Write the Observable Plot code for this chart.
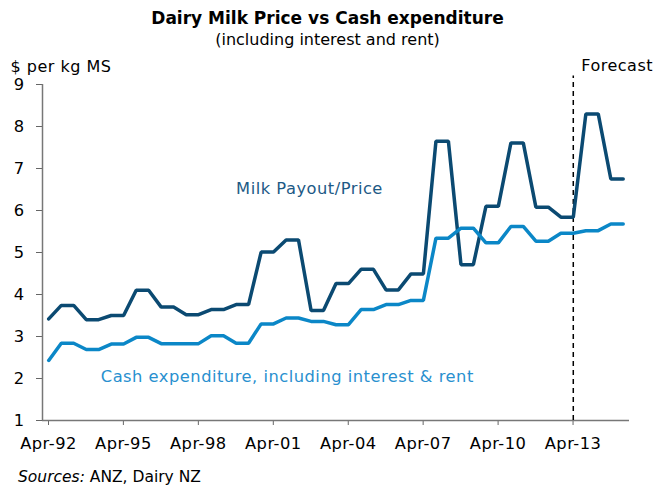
<!DOCTYPE html>
<html><head><meta charset="utf-8">
<script src="https://cdn.jsdelivr.net/npm/d3@7"></script>
<script src="https://cdn.jsdelivr.net/npm/@observablehq/plot@0.6"></script>
<style>
body{margin:0;background:#fff;font-family:"DejaVu Sans",Verdana,sans-serif;width:655px;color:#000;}
#title{padding-top:7px;text-align:center;font-weight:bold;font-size:17px;line-height:22px;}
#subtitle{text-align:center;font-size:16px;line-height:22px;}
#caption{padding-left:18px;font-size:15.5px;line-height:20px;padding-top:7px;}
svg text{letter-spacing:0.5px;}
</style></head><body>
<div id="title">Dairy Milk Price vs Cash expenditure</div>
<div id="subtitle">(including interest and rent)</div>
<div id="chart"></div>
<div id="caption"><i>Sources:</i> ANZ, Dairy NZ</div>
<script>
// Season values: first value plotted at Jul-1992, each later value held from Jan to Jul of its year
const seasonYears = [1992,1993,1994,1995,1996,1997,1998,1999,2000,2001,2002,2003,2004,2005,2006,2007,2008,2009,2010,2011,2012,2013,2014,2015];
const milkPrice = [3.42,3.74,3.40,3.50,4.10,3.70,3.52,3.64,3.76,5.01,5.30,3.62,4.26,4.60,4.11,4.49,7.65,4.71,6.10,7.61,6.08,5.84,8.30,6.75];
const cashExpenditure = [2.43,2.84,2.69,2.82,2.98,2.83,2.83,3.02,2.84,3.30,3.44,3.36,3.28,3.64,3.76,3.86,5.34,5.58,5.23,5.62,5.27,5.46,5.52,5.68];
const seriesNames = ["Milk Payout/Price", "Cash expenditure, including interest & rent"];
const seriesColors = ["#0b4a72", "#0b87c7"];
const labelColors = ["#1d5a86", "#2990cf"];
const tickYears = [1992,1995,1998,2001,2004,2007,2010,2013];
const tickLabels = ["Apr-92","Apr-95","Apr-98","Apr-01","Apr-04","Apr-07","Apr-10","Apr-13"];
const yTicks = [1,2,3,4,5,6,7,8,9];
const forecastYear = 2013, forecastMonth = 6; // Jul-13
const xStart = [1992, 3], xEnd = [2015, 9];

const rows = [];
seasonYears.forEach((yr, i) => {
  const months = i === 0 ? [6] : [0, 6];
  for (const m of months) {
    const date = new Date(Date.UTC(yr, m, 1));
    rows.push({date, value: milkPrice[i], series: seriesNames[0]});
    rows.push({date, value: cashExpenditure[i], series: seriesNames[1]});
  }
});
const tickDates = tickYears.map(y => new Date(Date.UTC(y, 3, 1)));
const labelByTime = new Map(tickDates.map((d, i) => [+d, tickLabels[i]]));
const forecastDate = new Date(Date.UTC(forecastYear, forecastMonth, 1));
const x0 = new Date(Date.UTC(...xStart)), x1 = new Date(Date.UTC(...xEnd));

const labels = [
  {date: new Date(Date.UTC(2000, 0, 1)), value: 6.52, text: seriesNames[0], color: labelColors[0]},
  {date: new Date(Date.UTC(1994, 7, 1)), value: 2.03, text: seriesNames[1], color: labelColors[1]}
];

const chart = Plot.plot({
  width: 655, height: 409,
  marginTop: 33, marginBottom: 40, marginLeft: 42, marginRight: 26,
  style: {fontFamily: '"DejaVu Sans", Verdana, sans-serif', fontSize: "16.3px", background: "#fff", color: "#000", overflow: "visible"},
  x: {type: "utc", domain: [x0, x1]},
  y: {domain: [1, 9]},
  color: {domain: seriesNames, range: seriesColors},
  marks: [
    Plot.axisY(yTicks, {tickSize: 6, tickPadding: 12, stroke: "#666", fill: "#000", label: null}),
    Plot.axisX(tickDates, {tickSize: 5, tickPadding: 12, dx: 6, stroke: "#666", fill: "#000", label: null, tickFormat: d => labelByTime.get(+d)}),
    Plot.ruleY([1], {stroke: "#777", strokeWidth: 1.5}),
    Plot.ruleX([x0], {y1: 1, y2: 9, stroke: "#777", strokeWidth: 1.5}),
    Plot.ruleX([forecastDate], {y1: 1, y2: 9.2, stroke: "#000", strokeWidth: 1.5, strokeDasharray: "5,4"}),
    Plot.line(rows, {x: "date", y: "value", z: "series", stroke: "series", strokeWidth: 3.5, strokeLinejoin: "miter"}),
    Plot.text(labels, {x: "date", y: "value", text: "text", fill: "color", textAnchor: "start", fontSize: 16.3}),
    Plot.text(["Forecast"], {x: forecastDate, y: 9.45, dx: 8, textAnchor: "start", fill: "#000", fontSize: 16}),
    Plot.text(["$ per kg MS"], {frameAnchor: "top-left", lineAnchor: "middle", dx: -32, dy: -18, textAnchor: "start", fill: "#000", fontSize: 16})
  ]
});
document.getElementById("chart").appendChild(chart);
</script>
</body></html>
